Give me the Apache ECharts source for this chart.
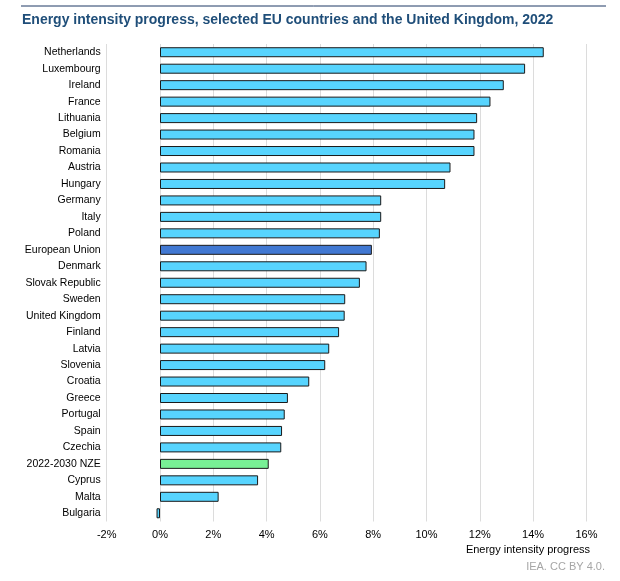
<!DOCTYPE html>
<html>
<head>
<meta charset="utf-8">
<script src="https://cdn.jsdelivr.net/npm/echarts@6/dist/echarts.min.js"></script>
<style>
  html, body { margin: 0; padding: 0; background: #fff; }
  #chart { width: 620px; height: 581px; }
</style>
</head>
<body>
<div id="chart"></div>
<script>
var countries = ['Netherlands', 'Luxembourg', 'Ireland', 'France', 'Lithuania', 'Belgium', 'Romania',
  'Austria', 'Hungary', 'Germany', 'Italy', 'Poland', 'European Union', 'Denmark', 'Slovak Republic',
  'Sweden', 'United Kingdom', 'Finland', 'Latvia', 'Slovenia', 'Croatia', 'Greece', 'Portugal',
  'Spain', 'Czechia', '2022-2030 NZE', 'Cyprus', 'Malta', 'Bulgaria'];
var progress = [14.4, 13.7, 12.9, 12.4, 11.9, 11.8, 11.8,
  10.9, 10.7, 8.3, 8.3, 8.25, 7.95, 7.75, 7.5,
  6.95, 6.93, 6.72, 6.35, 6.2, 5.6, 4.8, 4.68,
  4.58, 4.55, 4.08, 3.68, 2.2, -0.13];

var barColor = '#57d4fe';
var specialColors = { 'European Union': '#4178d2', '2022-2030 NZE': '#78f095' };

var myChart = echarts.init(document.getElementById('chart'));
var option = {
  textStyle: { fontFamily: 'Liberation Sans, Arial, sans-serif' },
  title: {
    text: 'Energy intensity progress, selected EU countries and the United Kingdom, 2022',
    left: 17,
    top: 8,
    textStyle: { color: '#1f4e79', fontSize: 14, fontWeight: 'bold' }
  },
  graphic: [
    { type: 'line', shape: { x1: 21, y1: 6, x2: 606, y2: 6 }, style: { stroke: '#1f3864', lineWidth: 1 } },
    { type: 'text', right: 30, top: 544, style: { text: 'Energy intensity progress', fontSize: 11, fill: '#000', fontFamily: 'Liberation Sans, Arial, sans-serif' } },
    { type: 'text', right: 15, top: 561, style: { text: 'IEA. CC BY 4.0.', fontSize: 11, fill: '#a6a6a6', fontFamily: 'Liberation Sans, Arial, sans-serif' } }
  ],
  grid: { left: 106.7, right: 33.6, top: 44, height: 477.5 },
  xAxis: {
    type: 'value',
    min: -2,
    max: 16,
    interval: 2,
    axisLine: { show: false },
    axisTick: { show: false },
    splitLine: { lineStyle: { color: '#dcdcdc', width: 1 } },
    axisLabel: { formatter: '{value}%', color: '#000', fontSize: 11, margin: 8 }
  },
  yAxis: {
    type: 'category',
    data: countries,
    inverse: true,
    axisLine: { show: false },
    axisTick: { show: false },
    axisLabel: { color: '#000', fontSize: 10.5, margin: 6 }
  },
  series: [{
    type: 'bar',
    barWidth: 10,
    data: progress.map(function (v, i) {
      return {
        value: v,
        itemStyle: { color: specialColors[countries[i]] || barColor }
      };
    }),
    itemStyle: { borderColor: '#1a1a1a', borderWidth: 1 },
    silent: true
  }]
};
myChart.setOption(option);
</script>
</body>
</html>
